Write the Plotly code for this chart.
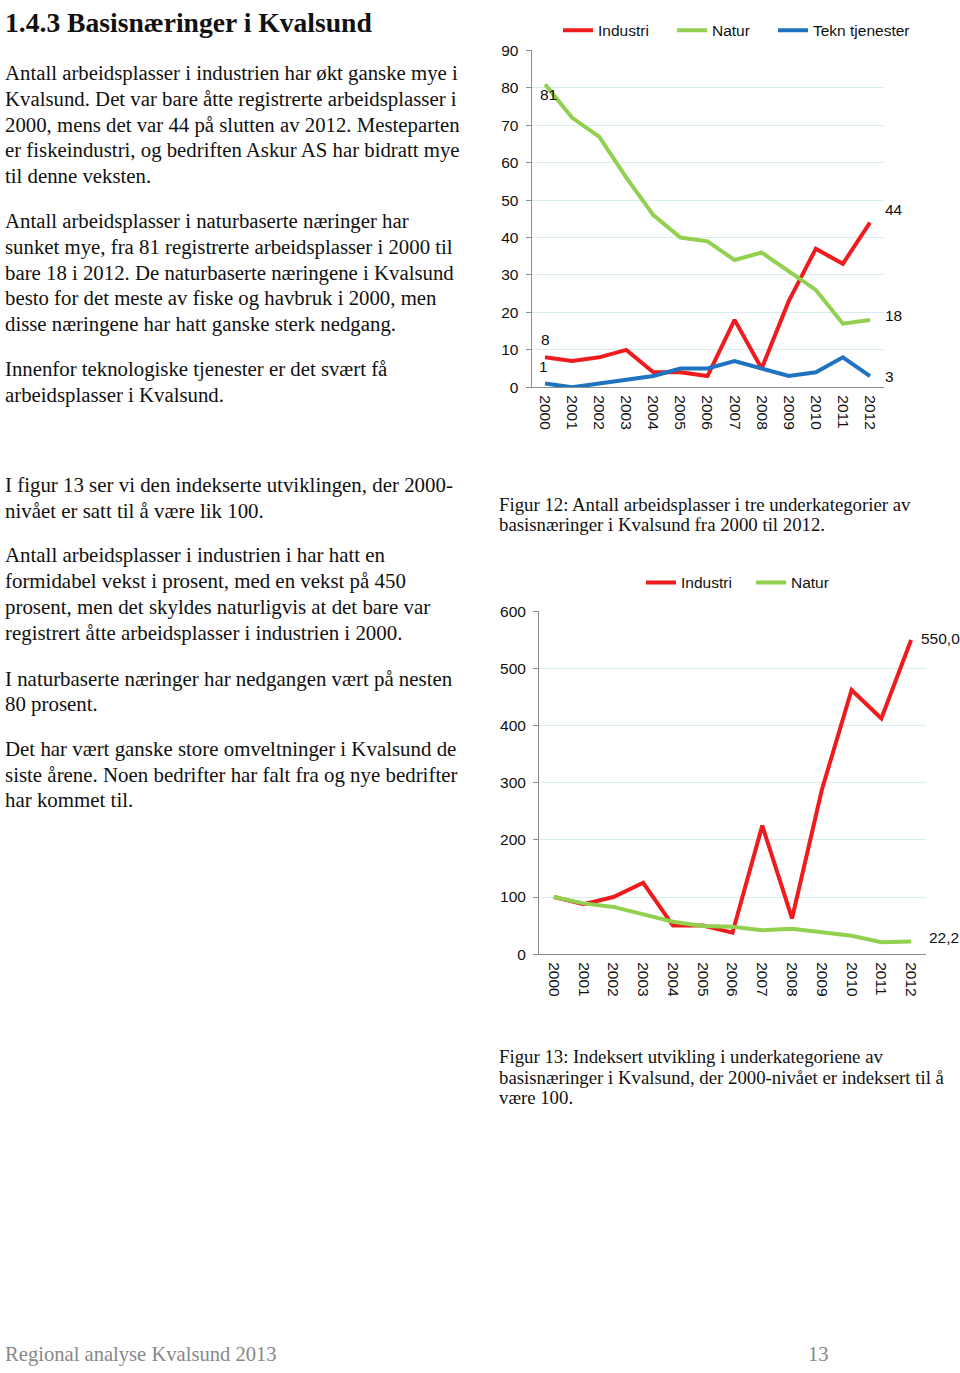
import plotly.graph_objects as go

W, H = 960, 1373

years = [str(y) for y in range(2000, 2013)]

# Figur 12: antall arbeidsplasser
industri = [8, 7, 8, 10, 4, 4, 3, 18, 5, 23, 37, 33, 44]
natur = [81, 72, 67, 56, 46, 40, 39, 34, 36, 31, 26, 17, 18]
tekn = [1, 0, 1, 2, 3, 5, 5, 7, 5, 3, 4, 8, 3]

# Figur 13: indeksert (2000 = 100)
industri_idx = [100, 87.5, 100, 125, 50, 50, 37.5, 225, 62.5, 287.5, 462.5, 412.5, 550.0]
natur_idx = [100, 88.9, 82.7, 69.1, 56.8, 49.4, 48.1, 42.0, 44.4, 38.3, 32.1, 21.0, 22.2]

RED = "#ee1c1c"
GREEN = "#92d050"
BLUE = "#1f73c0"
GRID = "#d6ecef"
AXIS = "#8c8c8c"
SANS = "Liberation Sans, Arial, sans-serif"
SERIF = "Liberation Serif, Times New Roman, serif"

heading = "1.4.3 Basisnæringer i Kvalsund"
para_top = [
    ["Antall arbeidsplasser i industrien har økt ganske mye i",
     "Kvalsund. Det var bare åtte registrerte arbeidsplasser i",
     "2000, mens det var 44 på slutten av 2012. Mesteparten",
     "er fiskeindustri, og bedriften Askur AS har bidratt mye",
     "til denne veksten."],
    ["Antall arbeidsplasser i naturbaserte næringer har",
     "sunket mye, fra 81 registrerte arbeidsplasser i 2000 til",
     "bare 18 i 2012. De naturbaserte næringene i Kvalsund",
     "besto for det meste av fiske og havbruk i 2000, men",
     "disse næringene har hatt ganske sterk nedgang."],
    ["Innenfor teknologiske tjenester er det svært få",
     "arbeidsplasser i Kvalsund."],
]
para_top_y = [65, 215, 365]
para_bot = [
    ["I figur 13 ser vi den indekserte utviklingen, der 2000-",
     "nivået er satt til å være lik 100."],
    ["Antall arbeidsplasser i industrien i har hatt en",
     "formidabel vekst i prosent, med en vekst på 450",
     "prosent, men det skyldes naturligvis at det bare var",
     "registrert åtte arbeidsplasser i industrien i 2000."],
    ["I naturbaserte næringer har nedgangen vært på nesten",
     "80 prosent."],
    ["Det har vært ganske store omveltninger i Kvalsund de",
     "siste årene. Noen bedrifter har falt fra og nye bedrifter",
     "har kommet til."],
]
para_bot_y = [482, 553, 678, 749]
cap12 = ["Figur 12: Antall arbeidsplasser i tre underkategorier av",
         "basisnæringer i Kvalsund fra 2000 til 2012."]
cap13 = ["Figur 13: Indeksert utvikling i underkategoriene av",
         "basisnæringer i Kvalsund, der 2000-nivået er indeksert til å",
         "være 100."]
footer_left = "Regional analyse Kvalsund 2013"
footer_right = "13"


def px(x):
    return x / W


def py(y):
    return 1 - y / H


FS = 15.5
fig = go.Figure()
lw = 4
fig.add_trace(go.Scatter(x=years, y=industri, name="Industri", mode="lines",
                         line=dict(color=RED, width=lw), xaxis="x", yaxis="y", legend="legend"))
fig.add_trace(go.Scatter(x=years, y=natur, name="Natur", mode="lines",
                         line=dict(color=GREEN, width=lw), xaxis="x", yaxis="y", legend="legend2"))
fig.add_trace(go.Scatter(x=years, y=tekn, name="Tekn tjenester", mode="lines",
                         line=dict(color=BLUE, width=lw), xaxis="x", yaxis="y", legend="legend3"))
fig.add_trace(go.Scatter(x=years, y=industri_idx, name="Industri", mode="lines",
                         line=dict(color=RED, width=lw), xaxis="x2", yaxis="y2", legend="legend4"))
fig.add_trace(go.Scatter(x=years, y=natur_idx, name="Natur", mode="lines",
                         line=dict(color=GREEN, width=lw), xaxis="x2", yaxis="y2", legend="legend5"))

xcommon = dict(type="category", range=[-0.5, 12.5], showgrid=False, showline=True,
               linecolor=AXIS, linewidth=1, tickangle=90, ticks="", ticklabelstandoff=4,
               tickfont=dict(family=SANS, size=FS, color="#111"), fixedrange=True)
ycommon = dict(showgrid=True, gridcolor=GRID, gridwidth=1, showline=True, linecolor=AXIS,
               linewidth=1, ticks="outside", ticklen=5, tickcolor=AXIS, zeroline=False,
               ticklabelstandoff=4,
               tickfont=dict(family=SANS, size=FS, color="#111"), fixedrange=True)


def leg(x_text, y):
    return dict(orientation="h", x=px(x_text - 40), y=py(y), xanchor="left", yanchor="middle",
                font=dict(family=SANS, size=FS, color="#111"), bgcolor="rgba(0,0,0,0)",
                itemwidth=30)


fig.update_layout(
    width=W, height=H, margin=dict(l=0, r=0, t=0, b=0),
    paper_bgcolor="white", plot_bgcolor="white",
    xaxis=dict(domain=[px(531.5), px(883.5)], anchor="y", **xcommon),
    yaxis=dict(domain=[py(383), py(42)], anchor="x", range=[0, 90], dtick=10, **ycommon),
    xaxis2=dict(domain=[px(539), px(926)], anchor="y2", **xcommon),
    yaxis2=dict(domain=[py(957), py(610)], anchor="x2", range=[0, 600], dtick=100, **ycommon),
    legend=leg(598, 22), legend2=leg(712, 22), legend3=leg(813, 22),
    legend4=leg(681, 581), legend5=leg(791, 581),
    showlegend=True,
)

ann = []
lab = dict(family=SANS, size=FS, color="#111")
i0, i1 = 0, len(years) - 1
# data labels chart 1
ann.append(dict(x=i0, y=natur[0], xref="x", yref="y", text=str(natur[0]), showarrow=False,
                xshift=3, yshift=-10, font=lab))
ann.append(dict(x=i0, y=industri[0], xref="x", yref="y", text=str(industri[0]), showarrow=False,
                xshift=0, yshift=18, font=lab))
ann.append(dict(x=i0, y=tekn[0], xref="x", yref="y", text=str(tekn[0]), showarrow=False,
                xshift=-2, yshift=17, font=lab))
ann.append(dict(x=i1, y=industri[-1], xref="x", yref="y", text=str(industri[-1]), showarrow=False,
                xshift=24, yshift=13, font=lab))
ann.append(dict(x=i1, y=natur[-1], xref="x", yref="y", text=str(natur[-1]), showarrow=False,
                xshift=24, yshift=4, font=lab))
ann.append(dict(x=i1, y=tekn[-1], xref="x", yref="y", text=str(tekn[-1]), showarrow=False,
                xshift=20, yshift=0, font=lab))
# data labels chart 2
ann.append(dict(x=i1, y=industri_idx[-1], xref="x2", yref="y2",
                text=f"{industri_idx[-1]:.1f}".replace(".", ","), showarrow=False,
                xanchor="left", xshift=8, yshift=2, font=lab))
ann.append(dict(x=i1, y=natur_idx[-1], xref="x2", yref="y2",
                text=f"{natur_idx[-1]:.1f}".replace(".", ","), showarrow=False,
                xanchor="left", xshift=16, yshift=4, font=lab))


def text_lines(lines, x0, y0, step, size, color="#111", family=SERIF):
    for i, t in enumerate(lines):
        ann.append(dict(x=px(x0), y=py(y0 + i * step), xref="paper", yref="paper", text=t,
                        showarrow=False, xanchor="left", yanchor="middle",
                        font=dict(family=family, size=size, color=color)))


ann.append(dict(x=px(3), y=py(14), xref="paper", yref="paper", text="<b>" + heading + "</b>",
                showarrow=False, xanchor="left", yanchor="middle",
                font=dict(family=SERIF, size=27.6, color="#111")))
for lines, y0 in zip(para_top, para_top_y):
    text_lines(lines, 3, y0, 26, 20.8)
for lines, y0 in zip(para_bot, para_bot_y):
    text_lines(lines, 3, y0, 26.2, 20.9)
text_lines(cap12, 497, 502, 19.5, 18.8)
text_lines(cap13, 497, 1061, 20.5, 18.8)
text_lines([footer_left], 3, 1362, 0, 20.6, color="#888")
ann.append(dict(x=px(818), y=py(1362), xref="paper", yref="paper", text=footer_right,
                showarrow=False, xanchor="center", yanchor="middle",
                font=dict(family=SERIF, size=20.6, color="#888")))

fig.update_layout(annotations=ann)

post = (
    "document.documentElement.style.margin='0';document.documentElement.style.padding='0';"
    "document.documentElement.style.overflow='hidden';"
    "document.body.style.margin='0';document.body.style.padding='0';"
    "document.body.style.overflow='hidden';"
    "var gd=document.getElementById('{plot_id}');gd.style.display='block';"
)
fig.write_html("out.html", config={"displayModeBar": False}, post_script=post)
